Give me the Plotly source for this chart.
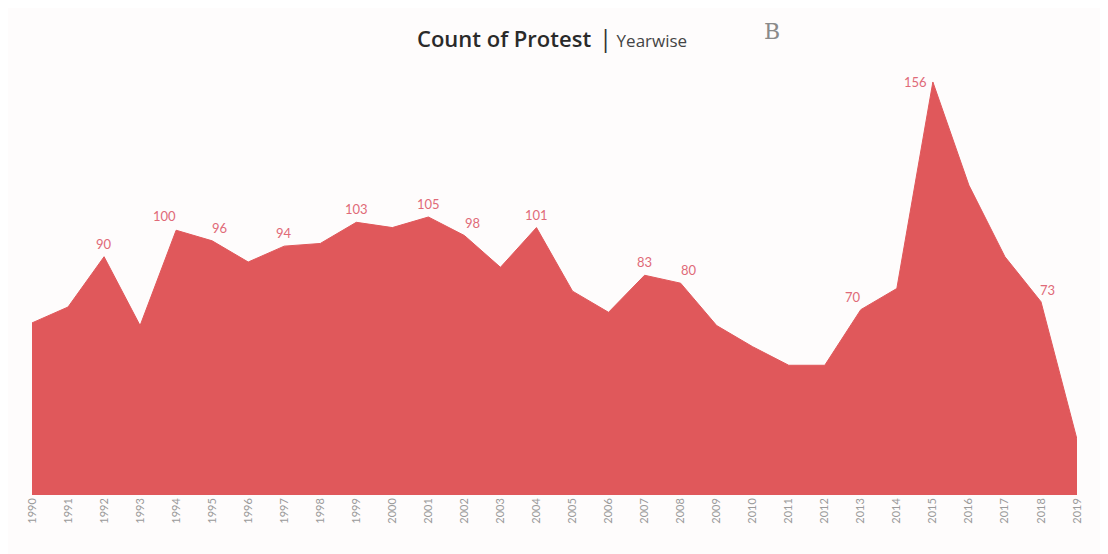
import plotly.graph_objects as go

years = list(range(1990, 2020))
counts = [65, 71, 90, 64, 100, 96, 88, 94, 95, 103, 101, 105, 98, 86, 101,
          77, 69, 83, 80, 64, 56, 49, 49, 70, 78, 156, 117, 90, 73, 21]
labeled_years = [1992, 1994, 1995, 1997, 1999, 2001, 2002, 2004, 2007, 2008, 2013, 2015, 2018]
tick_labels = [str(y) for y in years]

# label placement offsets (pixels) - style only
label_shift = {1994: (-12, 14), 1995: (7, 13), 2002: (8, 13), 2008: (8, 13),
               2013: (-8, 13), 2015: (-17, 0), 2018: (7, 12)}

fill_color = "#E0585B"

# screen geometry
W, H = 1108, 554
OFF = 8  # page body offset
PL, PR, PT, PB = 32, 1077, 60, 495


def px_to_paper(X, Y):
    return (X - PL) / (PR - PL), (PB - Y) / (PB - PT)


fig = go.Figure()
fig.add_trace(go.Scatter(
    x=years, y=counts, mode="lines", fill="tozeroy",
    line=dict(color=fill_color, width=1), fillcolor=fill_color,
    hoverinfo="x+y", showlegend=False,
))

annotations = []
for yr in labeled_years:
    v = counts[years.index(yr)]
    dx, dy = label_shift.get(yr, (0, 13))
    annotations.append(dict(
        x=yr, y=v, xref="x", yref="y", text=str(v), showarrow=False,
        xshift=dx, yshift=dy, xanchor="center", yanchor="middle",
        font=dict(family="Lato", size=13, color="#E06A78"),
    ))

tx1, ty = px_to_paper(593, 38)
tx2, _ = px_to_paper(597, 38)
annotations.append(dict(
    text="Count of Protest", x=tx1, y=ty, xref="paper", yref="paper",
    xanchor="right", yanchor="middle", showarrow=False,
    font=dict(family="Open Sans", size=22, color="#2a2a2a", weight=600),
))
annotations.append(dict(
    text="<span style='font-size:24px;color:#333'>|</span> Yearwise", x=tx2, y=ty,
    xref="paper", yref="paper", xanchor="left", yanchor="middle", showarrow=False,
    font=dict(family="Open Sans", size=17, color="#444"),
))
bx, by = px_to_paper(772, 32)
annotations.append(dict(
    text="B", x=bx, y=by, xref="paper", yref="paper", showarrow=False,
    xanchor="center", yanchor="middle",
    font=dict(family="DejaVu Serif", size=22, color="#8a8a8a"),
))

fig.update_layout(
    width=W, height=H,
    paper_bgcolor="#FEFCFC", plot_bgcolor="#FEFCFC",
    margin=dict(l=PL - OFF, r=W - PR + OFF, t=PT - OFF, b=H - PB + OFF),
    xaxis=dict(
        range=[1990, 2019], tickmode="array", tickvals=years, ticktext=tick_labels,
        tickangle=-90, tickfont=dict(family="Lato", size=11, color="#9a9a9a"),
        showgrid=False, zeroline=False, showline=False, ticks="",
    ),
    yaxis=dict(range=[0, 164.3], visible=False, showgrid=False, zeroline=False),
    annotations=annotations,
)

fig.write_html("out.html")
